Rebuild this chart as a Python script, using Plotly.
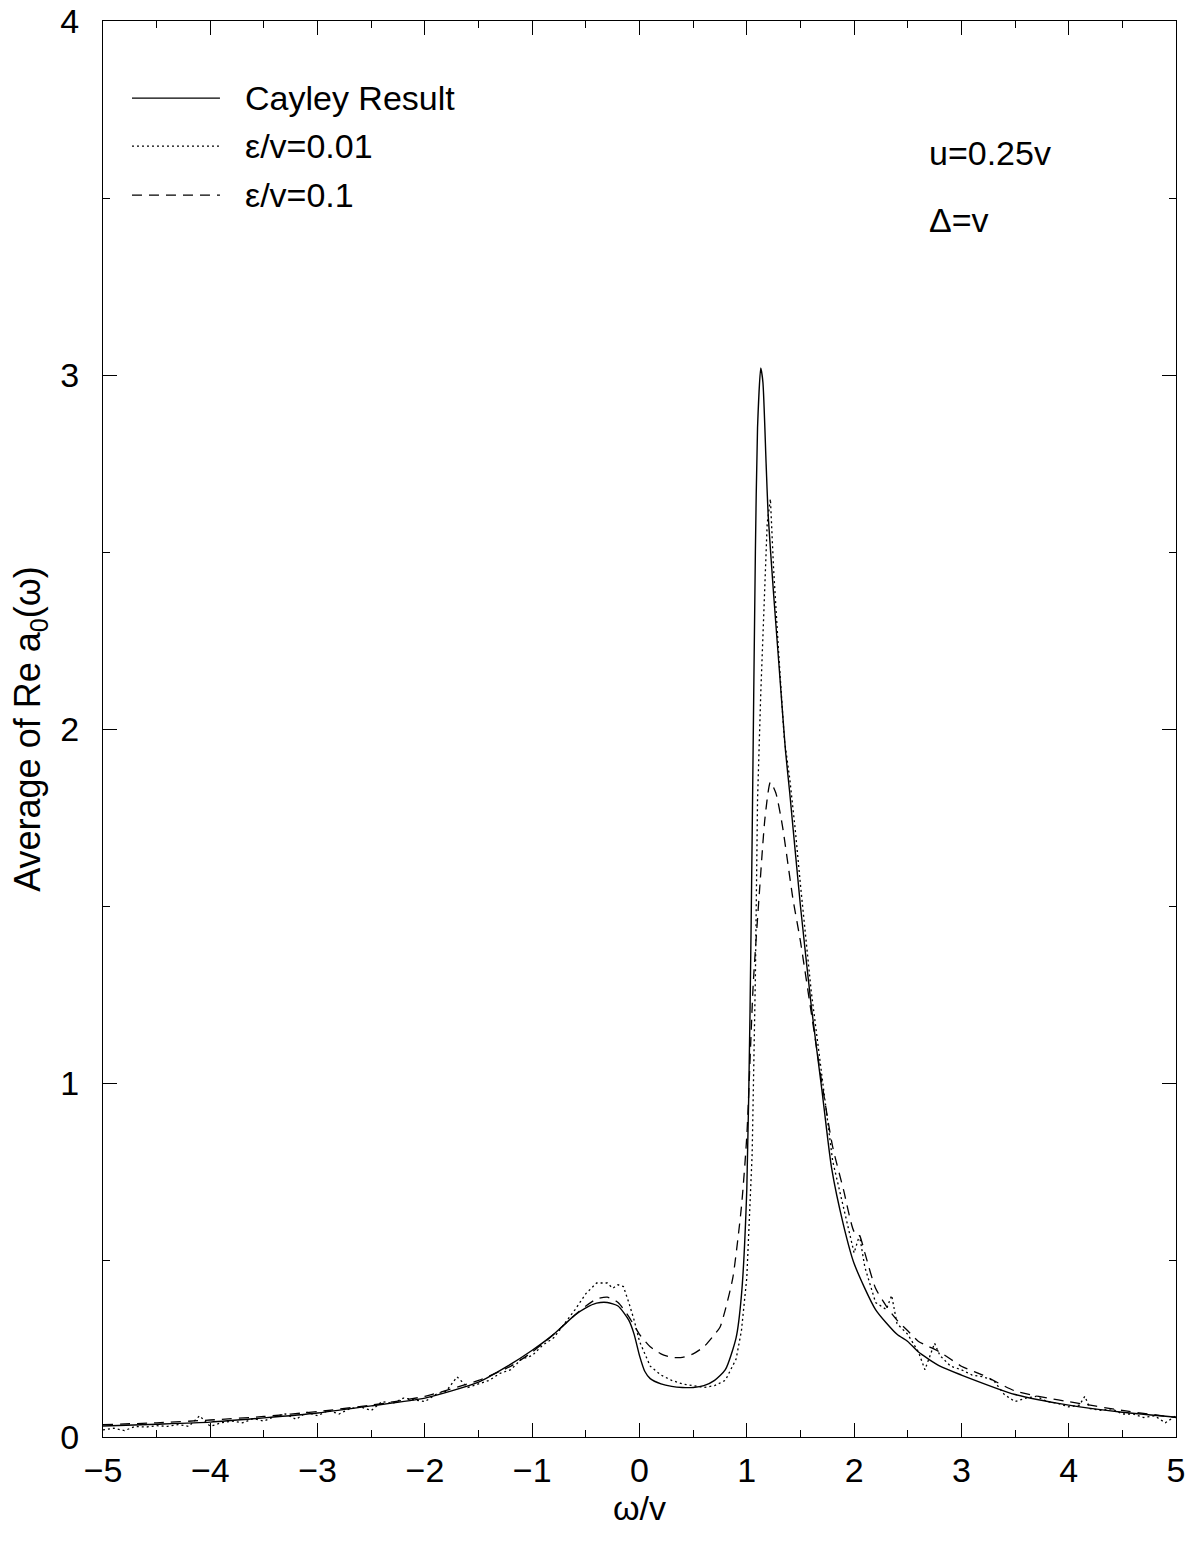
import plotly.graph_objects as go

# Cayley-tree result (smooth)
cayley_x = [-5.0, -4.5, -4.0, -3.5, -3.0, -2.5, -2.0, -1.5, -1.23, -1.0, -0.8, -0.6, -0.5,
            -0.4, -0.3, -0.2, -0.1, -0.05, 0.0, 0.05, 0.1, 0.2, 0.3, 0.4, 0.5, 0.6, 0.7,
            0.8, 0.9, 0.95, 1.0, 1.03, 1.05, 1.08, 1.1, 1.13, 1.15, 1.18, 1.2, 1.25, 1.3,
            1.36, 1.4, 1.5, 1.6, 1.7, 1.79, 1.9, 2.0, 2.2, 2.4, 2.5, 2.6, 2.8, 3.0, 3.5,
            4.0, 4.5, 5.0]
cayley_y = [0.031, 0.036, 0.042, 0.054, 0.068, 0.088, 0.11, 0.155, 0.2, 0.245, 0.29, 0.345, 0.365,
            0.378, 0.38, 0.37, 0.33, 0.29, 0.23, 0.185, 0.165, 0.15, 0.143, 0.14, 0.14, 0.145, 0.16,
            0.19, 0.28, 0.4, 0.7, 1.2, 1.7, 2.5, 2.85, 3.02, 2.98, 2.75, 2.6, 2.38, 2.18,
            1.94, 1.82, 1.5, 1.22, 0.98, 0.76, 0.6, 0.49, 0.36, 0.29, 0.27, 0.24, 0.2, 0.175, 0.12,
            0.09, 0.07, 0.056]

# epsilon/v = 0.01 (noisy)
eps001_x = [-5.0, -4.9, -4.8, -4.7, -4.6, -4.5, -4.4, -4.3, -4.2, -4.1, -4.0, -3.9, -3.8, -3.7,
            -3.6, -3.5, -3.4, -3.3, -3.2, -3.1, -3.0, -2.9, -2.8, -2.7, -2.6, -2.5, -2.4, -2.3,
            -2.2, -2.1, -2.0, -1.9, -1.8, -1.7, -1.6, -1.5, -1.4, -1.3, -1.2, -1.1, -1.0, -0.9,
            -0.8, -0.7, -0.6, -0.5, -0.4, -0.3, -0.25, -0.2, -0.15, -0.1, -0.05, 0.0, 0.1, 0.2,
            0.3, 0.4, 0.5, 0.6, 0.7, 0.8, 0.9, 0.95, 1.0, 1.05, 1.08, 1.1, 1.13, 1.16, 1.19,
            1.22, 1.25, 1.3, 1.35, 1.4, 1.45, 1.5, 1.6, 1.7, 1.8, 1.9, 2.0, 2.05, 2.1, 2.2, 2.3,
            2.35, 2.4, 2.5, 2.6, 2.66, 2.75, 2.8, 2.9, 3.0, 3.1, 3.2, 3.3, 3.4, 3.5, 3.6, 3.7,
            3.8, 3.9, 4.0, 4.1, 4.15, 4.2, 4.3, 4.4, 4.5, 4.6, 4.7, 4.8, 4.9, 5.0]
eps001_y = [0.02, 0.025, 0.018, 0.03, 0.028, 0.032, 0.03, 0.035, 0.03, 0.06, 0.03, 0.04, 0.045, 0.04,
            0.052, 0.045, 0.058, 0.065, 0.05, 0.07, 0.06, 0.075, 0.065, 0.08, 0.085, 0.075, 0.1, 0.095,
            0.11, 0.105, 0.1, 0.12, 0.13, 0.17, 0.14, 0.15, 0.16, 0.18, 0.19, 0.22, 0.23, 0.26,
            0.28, 0.32, 0.36, 0.405, 0.435, 0.435, 0.42, 0.43, 0.425, 0.38, 0.33, 0.27, 0.2, 0.175,
            0.16, 0.15, 0.145, 0.14, 0.145, 0.16, 0.22, 0.3, 0.45, 0.8, 1.3, 1.8, 2.1, 2.35, 2.58,
            2.65, 2.45, 2.2, 1.97, 1.86, 1.72, 1.56, 1.26, 1.02, 0.78, 0.65, 0.52, 0.57, 0.48, 0.38, 0.36,
            0.40, 0.32, 0.29, 0.24, 0.19, 0.265, 0.23, 0.2, 0.19, 0.175, 0.17, 0.16, 0.12, 0.1, 0.11, 0.115,
            0.1, 0.095, 0.085, 0.09, 0.115, 0.08, 0.075, 0.08, 0.065, 0.065, 0.055, 0.06, 0.04, 0.06]

# epsilon/v = 0.1
eps01_x = [-5.0, -4.5, -4.0, -3.5, -3.0, -2.5, -2.0, -1.5, -1.2, -1.0, -0.8, -0.6, -0.5, -0.4,
           -0.3, -0.2, -0.1, 0.0, 0.1, 0.2, 0.3, 0.4, 0.5, 0.6, 0.7, 0.75, 0.8, 0.87, 0.95, 1.0,
           1.06, 1.12, 1.17, 1.22, 1.27, 1.33, 1.43, 1.5, 1.6, 1.7, 1.8, 1.9, 2.0, 2.05, 2.1,
           2.2, 2.3, 2.4, 2.5, 2.6, 2.7, 2.8, 3.0, 3.2, 3.5, 3.8, 4.0, 4.5, 5.0]
eps01_y = [0.035, 0.04, 0.048, 0.058, 0.072, 0.09, 0.115, 0.16, 0.2, 0.24, 0.29, 0.345, 0.37, 0.39,
           0.395, 0.38, 0.34, 0.29, 0.255, 0.235, 0.225, 0.225, 0.235, 0.255, 0.29, 0.31, 0.36, 0.45, 0.65, 0.85,
           1.28, 1.55, 1.75, 1.85, 1.82, 1.73, 1.52, 1.4, 1.2, 1.0, 0.82, 0.7, 0.58, 0.57, 0.52,
           0.42, 0.37, 0.33, 0.3, 0.27, 0.255, 0.24, 0.2, 0.175, 0.13, 0.11, 0.1, 0.075, 0.055]

x_ticks = [-5, -4, -3, -2, -1, 0, 1, 2, 3, 4, 5]
x_tick_text = ["\u22125", "\u22124", "\u22123", "\u22122", "\u22121", "0", "1", "2", "3", "4", "5"]
y_ticks = [0, 1, 2, 3, 4]

legend_names = ["Cayley Result", "\u03b5/v=0.01", "\u03b5/v=0.1"]
legend_dash = ["solid", "2px,3px", "10px,7px"]

FONT = "Liberation Sans, Arial, sans-serif"
TXT = 34

fig = go.Figure()
fig.add_trace(go.Scatter(x=cayley_x, y=cayley_y, mode="lines", name=legend_names[0],
                         line=dict(color="black", width=1.4, shape="spline", smoothing=0.6)))
fig.add_trace(go.Scatter(x=eps001_x, y=eps001_y, mode="lines", name=legend_names[1],
                         line=dict(color="black", width=1.3, dash=legend_dash[1])))
fig.add_trace(go.Scatter(x=eps01_x, y=eps01_y, mode="lines", name=legend_names[2],
                         line=dict(color="black", width=1.3, dash=legend_dash[2],
                                   shape="spline", smoothing=0.6)))

# hand-placed legend keys in paper coordinates
legend_rows = [0.9456, 0.9117, 0.8771]
shapes = []
annotations = []
for name, dash, yy in zip(legend_names, legend_dash, legend_rows):
    shapes.append(dict(type="line", xref="paper", yref="paper", x0=0.027, x1=0.109, y0=yy, y1=yy,
                       line=dict(color="black", width=1.3, dash=dash)))
    annotations.append(dict(xref="paper", yref="paper", x=0.1305, y=yy, text=name, showarrow=False,
                            xanchor="left", yanchor="middle", font=dict(size=TXT, color="black", family=FONT)))

annotations.append(dict(xref="paper", yref="paper", x=0.768, y=0.9065, text="u=0.25v", showarrow=False,
                        xanchor="left", yanchor="middle", font=dict(size=TXT, color="black", family=FONT)))
annotations.append(dict(xref="paper", yref="paper", x=0.768, y=0.8598, text="\u0394=v", showarrow=False,
                        xanchor="left", yanchor="middle", font=dict(size=TXT, color="black", family=FONT)))

axis_common = dict(showgrid=False, zeroline=False, showline=True, linecolor="black", linewidth=1.3,
                   mirror="allticks", ticks="inside", ticklen=14, tickwidth=1.2, tickcolor="black",
                   automargin=False, tickfont=dict(size=TXT, color="black", family=FONT))

fig.update_layout(
    width=1192, height=1541,
    margin=dict(l=103, r=16, t=21, b=104),
    plot_bgcolor="white", paper_bgcolor="white",
    showlegend=False,
    shapes=shapes, annotations=annotations,
    xaxis=dict(range=[-5, 5], tickvals=x_ticks, ticktext=x_tick_text, ticklabelstandoff=3,
               minor=dict(dtick=0.5, ticks="inside", ticklen=7, tickcolor="black", tickwidth=1.2),
               title=dict(text="\u03c9/v", font=dict(size=TXT, color="black", family=FONT), standoff=6),
               **axis_common),
    yaxis=dict(range=[0, 4], tickvals=y_ticks, ticklabelstandoff=16,
               minor=dict(dtick=0.5, ticks="inside", ticklen=7, tickcolor="black", tickwidth=1.2),
               title=dict(text="Average of Re a<sub>0</sub>(\u03c9)",
                          font=dict(size=36, color="black", family=FONT), standoff=8),
               **axis_common),
)

fig.write_html("out.html")
